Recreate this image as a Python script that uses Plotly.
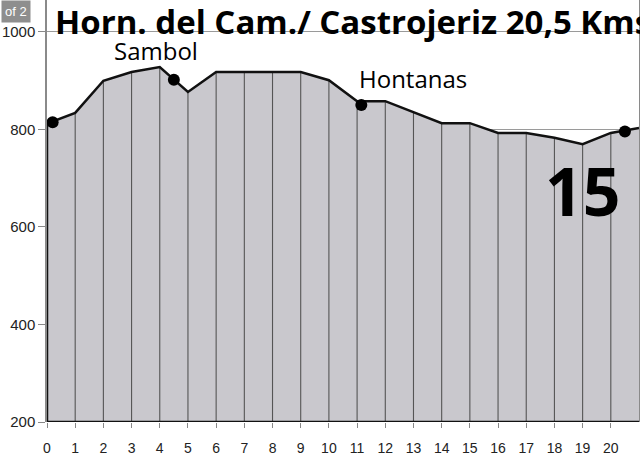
import plotly.graph_objects as go

# Distance (km) and elevation (m) of the profile
dist = [0, 1, 2, 3, 4, 5, 6, 7, 8, 9, 10, 11, 12, 13, 14, 15, 16, 17, 18, 19, 20, 21]
elev = [812, 834, 900, 918, 928, 877, 918, 918, 918, 918, 901, 858, 858, 836, 813, 813, 793, 793, 783, 770, 793, 803]

# Town markers
town_km = [0.2, 4.5, 11.15, 20.5]
town_elev = [815, 902, 850, 796]

# Labels
title_text = "Horn. del Cam./ Castrojeriz 20,5 Kms"
label_names = ["Sambol", "Hontanas"]
label_km = [3.85, 12.98]
label_elev = [962, 904]
stage_text = "15"

x_ticks = list(range(0, 21))
y_ticks = [200, 400, 600, 800, 1000]
base = 200

fig = go.Figure()

# filled area
fig.add_trace(go.Scatter(
    x=[dist[0]] + dist + [dist[-1]],
    y=[base] + elev + [base],
    fill="toself", fillcolor="#c9c8cd",
    line=dict(width=0), mode="lines", hoverinfo="skip", showlegend=False))

# vertical km lines
vx, vy = [], []
for d, e in zip(dist[1:-1], elev[1:-1]):
    vx += [d, d, None]
    vy += [base, e, None]
fig.add_trace(go.Scatter(x=vx, y=vy, mode="lines",
                         line=dict(color="#555555", width=1.1),
                         hoverinfo="skip", showlegend=False))

# outline
fig.add_trace(go.Scatter(
    x=[dist[-1], dist[0]] + dist,
    y=[base, base] + elev,
    mode="lines", line=dict(color="#111111", width=2.5),
    hoverinfo="skip", showlegend=False))

# town dots
fig.add_trace(go.Scatter(x=town_km, y=town_elev, mode="markers",
                         marker=dict(color="#000000", size=12),
                         hoverinfo="skip", showlegend=False))

fig.add_annotation(x=0.22, y=1021, xref="x", yref="y", text="<b>" + title_text + "</b>",
                   showarrow=False, xanchor="left", yanchor="middle",
                   font=dict(family="Open Sans", size=33, color="#000000"))
for n, k, e in zip(label_names, label_km, label_elev):
    fig.add_annotation(x=k, y=e, xref="x", yref="y", text=n, showarrow=False,
                       xanchor="center", yanchor="middle",
                       font=dict(family="Open Sans", size=24, color="#000000"))
fig.add_annotation(x=18.98, y=676, xref="x", yref="y", text="<b>" + stage_text + "</b>",
                   showarrow=False, xanchor="center", yanchor="middle",
                   font=dict(family="Open Sans", size=66, color="#000000"))

# "of 2" badge
fig.add_annotation(x=-0.052, y=1.0, xref="paper", yref="paper", text="of 2",
                   showarrow=False, xanchor="center", yanchor="top",
                   bgcolor="#8e8e8e", borderpad=3,
                   font=dict(family="Liberation Sans", size=13, color="#ffffff"))

fig.update_layout(
    width=640, height=460,
    margin=dict(l=47, r=1, t=0, b=38, autoexpand=False),
    plot_bgcolor="#ffffff", paper_bgcolor="#ffffff",
    xaxis=dict(range=[0, 21], tickvals=x_ticks, ticks="outside", ticklen=5,
               tickcolor="#888888", showgrid=False, zeroline=False, automargin=False,
               ticklabelstandoff=8,
               tickfont=dict(family="Liberation Sans", size=14, color="#222222"),
               showline=False),
    yaxis=dict(range=[200, 1065.6], tickvals=y_ticks, ticks="outside", ticklen=7,
               tickcolor="#888888", showgrid=True, gridcolor="#9a9a9a", gridwidth=1,
               zeroline=False, showline=True, linecolor="#8a8a8a", linewidth=1.5,
               mirror=True, automargin=False,
               tickfont=dict(family="Liberation Sans", size=15, color="#222222")),
)

fig.write_html("out.html", config={"displayModeBar": False},
               post_script="document.body.style.margin='0';document.body.style.overflow='hidden';")
